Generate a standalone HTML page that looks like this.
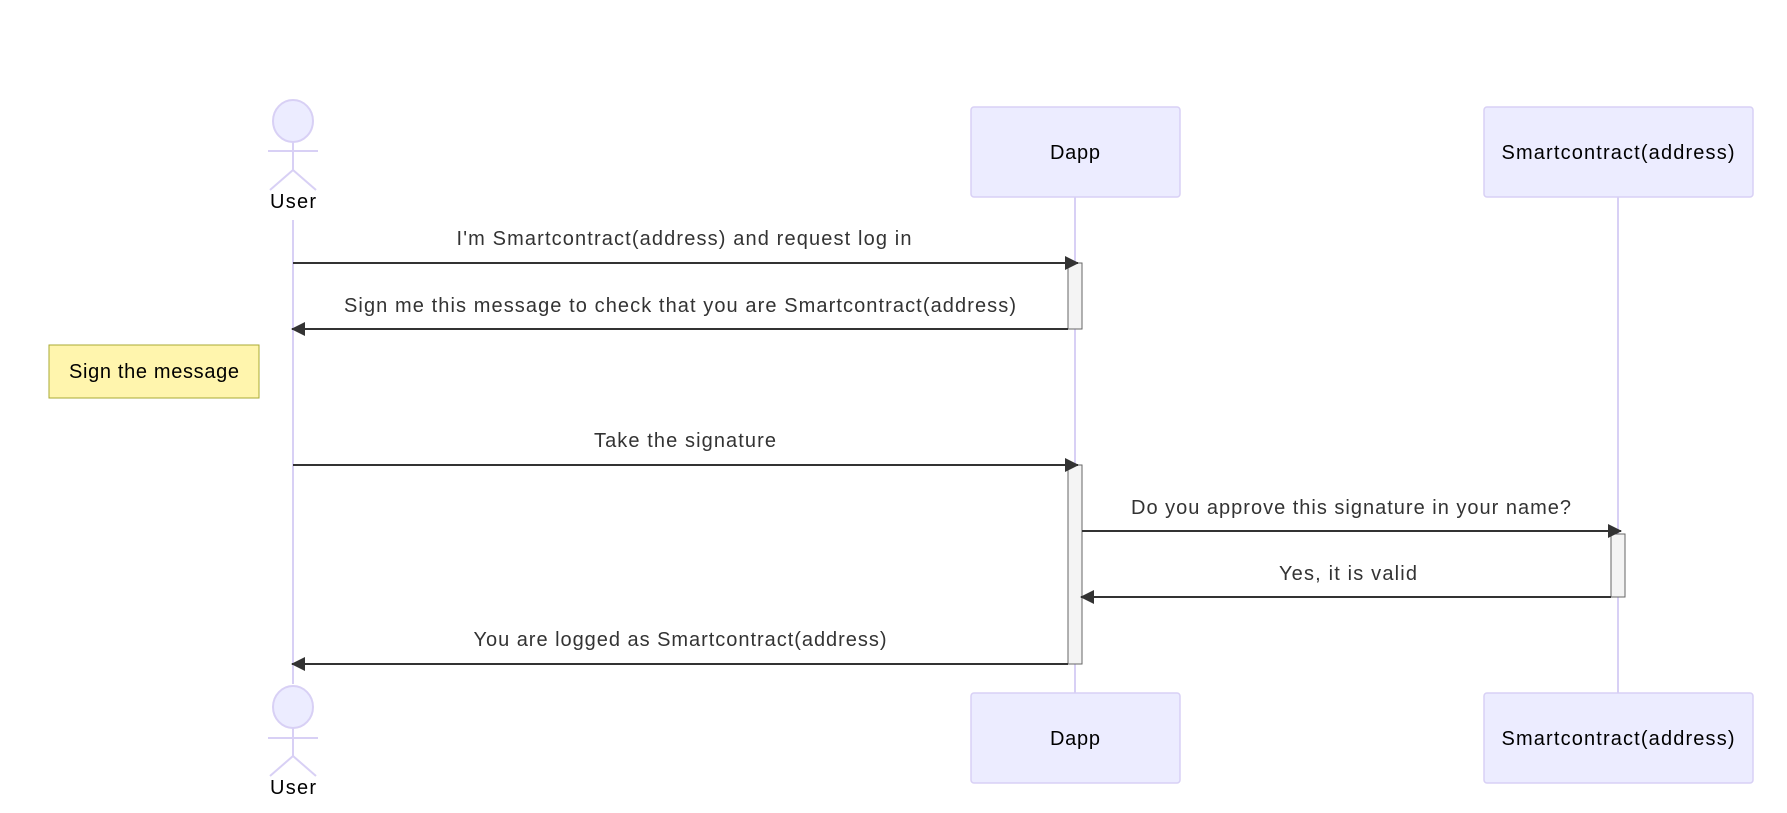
<!DOCTYPE html>
<html><head><style>html,body{margin:0;padding:0;background:#fff;}svg{display:block}</style></head>
<body>
<svg width="1787" height="813" viewBox="0 0 1787 813" xmlns="http://www.w3.org/2000/svg" font-family="'Liberation Sans', sans-serif" font-size="20">
<defs>
<marker id="ah" markerWidth="14" markerHeight="14" refX="13" refY="7" orient="auto" markerUnits="userSpaceOnUse">
<path d="M0,0 L14,7 L0,14 z" fill="#333"/>
</marker>
</defs>
<line x1="293" y1="220" x2="293" y2="684" stroke="#d8d0f5" stroke-width="2"/>
<line x1="1075" y1="197" x2="1075" y2="693" stroke="#d8d0f5" stroke-width="2"/>
<line x1="1618" y1="197" x2="1618" y2="693" stroke="#d8d0f5" stroke-width="2"/>
<g stroke="#d8d0f5" stroke-width="2" fill="#ECECFF">
<ellipse cx="293" cy="121" rx="20" ry="21"/>
<line x1="293" y1="142" x2="293" y2="170" fill="none"/>
<line x1="268" y1="151" x2="318" y2="151"/>
<line x1="293" y1="170" x2="270" y2="190"/>
<line x1="293" y1="170" x2="316" y2="190"/>
<ellipse cx="293" cy="707" rx="20" ry="21"/>
<line x1="293" y1="728" x2="293" y2="756"/>
<line x1="268" y1="738" x2="318" y2="738"/>
<line x1="293" y1="756" x2="270" y2="776"/>
<line x1="293" y1="756" x2="316" y2="776"/>
</g>
<text x="293" y="208" text-anchor="middle" textLength="46">User</text>
<text x="293" y="794" text-anchor="middle" textLength="46">User</text>
<g fill="#ECECFF" stroke="#d8d0f5" stroke-width="1.5">
<rect x="971" y="107" width="209" height="90" rx="3"/>
<rect x="1484" y="107" width="269" height="90" rx="3"/>
<rect x="971" y="693" width="209" height="90" rx="3"/>
<rect x="1484" y="693" width="269" height="90" rx="3"/>
</g>
<g text-anchor="middle">
<text x="1075" y="159" textLength="50">Dapp</text>
<text x="1618" y="159" textLength="233">Smartcontract(address)</text>
<text x="1075" y="745" textLength="50">Dapp</text>
<text x="1618" y="745" textLength="233">Smartcontract(address)</text>
</g>
<g fill="#f4f4f4" stroke="#666" stroke-width="1">
<rect x="1068" y="263" width="14" height="66"/>
<rect x="1068" y="465" width="14" height="199"/>
<rect x="1611" y="534" width="14" height="63"/>
</g>
<rect x="49" y="345" width="210" height="53" fill="#fff5ad" stroke="#aaaa33" stroke-width="1"/>
<text x="154" y="378" text-anchor="middle" textLength="170">Sign the message</text>
<g stroke="#333" stroke-width="2" marker-end="url(#ah)">
<line x1="293" y1="263" x2="1078" y2="263"/>
<line x1="1068" y1="329" x2="292" y2="329"/>
<line x1="293" y1="465" x2="1078" y2="465"/>
<line x1="1082" y1="531" x2="1621" y2="531"/>
<line x1="1611" y1="597" x2="1081" y2="597"/>
<line x1="1068" y1="664" x2="292" y2="664"/>
</g>
<g text-anchor="middle" fill="#333">
<text x="684" y="245" textLength="455">I'm Smartcontract(address) and request log in</text>
<text x="680" y="312" textLength="672">Sign me this message to check that you are Smartcontract(address)</text>
<text x="685" y="447" textLength="182">Take the signature</text>
<text x="1351" y="514" textLength="440">Do you approve this signature in your name?</text>
<text x="1348" y="580" textLength="138">Yes, it is valid</text>
<text x="680" y="646" textLength="413">You are logged as Smartcontract(address)</text>
</g>
</svg>
</body></html>
